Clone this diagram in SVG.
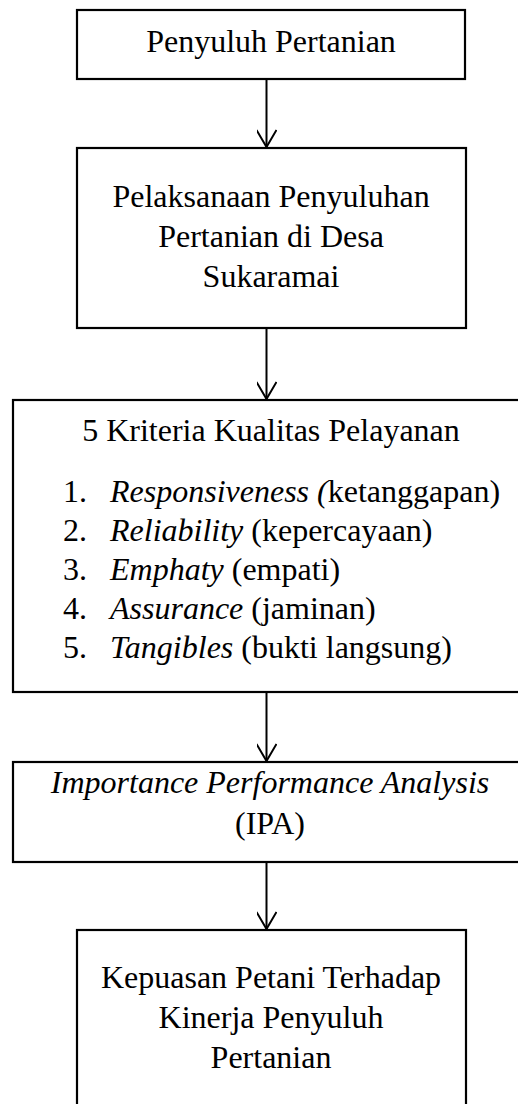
<svg xmlns="http://www.w3.org/2000/svg" width="518" height="1104" viewBox="0 0 518 1104">
<defs>
<style>
.box{fill:#fff;stroke:#000;stroke-width:2.2}
.t{font-family:"Liberation Serif","Times New Roman",serif;font-size:32px;fill:#000}
.c{text-anchor:middle}
.conn{stroke:#000;stroke-width:2;fill:none}
</style>
<marker id="ah" markerWidth="24" markerHeight="20" refX="18" refY="10" orient="auto" markerUnits="userSpaceOnUse">
<path d="M1,0 L18,10 L1,20" fill="none" stroke="#000" stroke-width="2"/>
</marker>
</defs>
<rect width="518" height="1104" fill="#fff"/>
<g id="connectors">
<line class="conn" x1="266.5" y1="79" x2="266.5" y2="147" marker-end="url(#ah)"/>
<line class="conn" x1="266.5" y1="328" x2="266.5" y2="399" marker-end="url(#ah)"/>
<line class="conn" x1="266.5" y1="692" x2="266.5" y2="761" marker-end="url(#ah)"/>
<line class="conn" x1="266.5" y1="862" x2="266.5" y2="929" marker-end="url(#ah)"/>
</g>
<g id="node1">
<rect class="box" x="77" y="10" width="388" height="69"/>
<text class="t c" x="271" y="52">Penyuluh Pertanian</text>
</g>
<g id="node2">
<rect class="box" x="77" y="148" width="389" height="180"/>
<text class="t c" x="271" y="207">Pelaksanaan Penyuluhan</text>
<text class="t c" x="271" y="247">Pertanian di Desa</text>
<text class="t c" x="271" y="287">Sukaramai</text>
</g>
<g id="node3">
<rect class="box" x="13" y="400" width="520" height="292"/>
<text class="t c" x="271" y="441">5 Kriteria Kualitas Pelayanan</text>
<text class="t" x="63" y="502">1.</text>
<text class="t" x="110" y="502"><tspan font-style="italic">Responsiveness (</tspan>ketanggapan)</text>
<text class="t" x="63" y="541">2.</text>
<text class="t" x="110" y="541"><tspan font-style="italic">Reliability</tspan> (kepercayaan)</text>
<text class="t" x="63" y="580">3.</text>
<text class="t" x="110" y="580"><tspan font-style="italic">Emphaty</tspan> (empati)</text>
<text class="t" x="63" y="619">4.</text>
<text class="t" x="110" y="619"><tspan font-style="italic">Assurance</tspan> (jaminan)</text>
<text class="t" x="63" y="658">5.</text>
<text class="t" x="110" y="658"><tspan font-style="italic">Tangibles</tspan> (bukti langsung)</text>
</g>
<g id="node4">
<rect class="box" x="13" y="762" width="520" height="100"/>
<text class="t c" x="270" y="793" font-style="italic">Importance Performance Analysis</text>
<text class="t c" x="270" y="834">(IPA)</text>
</g>
<g id="node5">
<rect class="box" x="77" y="930" width="389" height="190"/>
<text class="t c" x="271" y="988">Kepuasan Petani Terhadap</text>
<text class="t c" x="271" y="1028">Kinerja Penyuluh</text>
<text class="t c" x="271" y="1068">Pertanian</text>
</g>
</svg>
